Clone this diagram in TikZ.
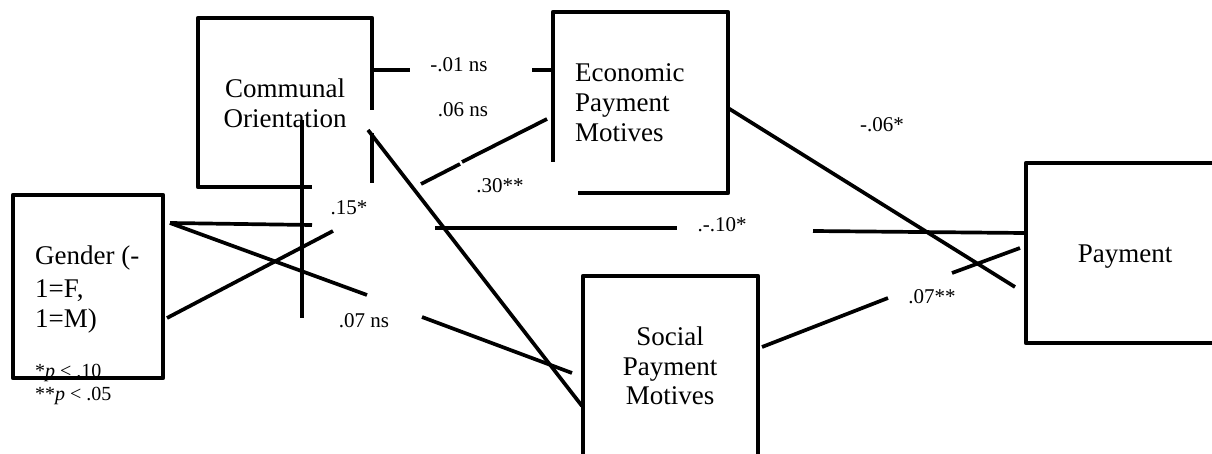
\documentclass[tikz,border=0pt]{standalone}
\usepackage{fontspec}
\setmainfont{Liberation Serif}
\begin{document}
\begin{tikzpicture}[x=1pt,y=-1pt,
  box/.style={line width=4.6pt, line join=round},
  conn/.style={line width=3.7pt},
  txt/.style={inner sep=0pt, font=\fontsize{27}{30}\selectfont},
  lab/.style={inner sep=0pt, font=\fontsize{21}{24}\selectfont},
  foot/.style={inner sep=0pt, font=\fontsize{20}{23}\selectfont}]
\useasboundingbox (0,0) rectangle (1212,454);

% footnote (under the Gender box edge)
\node[foot, anchor=base west] (f1) at (35,377) {*\textit{p} < .10};
\node[foot, anchor=base west] (f2) at (35,400) {**\textit{p} < .05};

% box texts
\node[txt, anchor=base] (co1) at (285,98) {Communal};
\node[txt, anchor=base] (co2) at (285,128) {Orientation};
\node[txt, anchor=base west] (ec1) at (575,82) {Economic};
\node[txt, anchor=base west] (ec2) at (575,112) {Payment};
\node[txt, anchor=base west] (ec3) at (575,142) {Motives};
\node[txt, anchor=base west] (ge1) at (35,265) {Gender (-};
\node[txt, anchor=base west] (ge2) at (35,297) {1=F,};
\node[txt, anchor=base west] (ge3) at (35,327) {1=M)};
\node[txt, anchor=base] (so1) at (670,345) {Social};
\node[txt, anchor=base] (so2) at (670,375) {Payment};
\node[txt, anchor=base] (so3) at (670,404) {Motives};
\node[txt, anchor=base] (pa) at (1125,262) {Payment};

% box outlines
\draw[box] (372,110) -- (372,18) -- (198,18) -- (198,187) -- (312,187);
\draw[box] (372,133) -- (372,183);
\draw[box] (553,162) -- (553,12) -- (728,12) -- (728,193) -- (578,193);
\draw[box] (13,195) rectangle (163,378);
\draw[box] (583,456) -- (583,276) -- (758,276) -- (758,456);
\draw[box] (1214,163) -- (1026,163) -- (1026,343) -- (1214,343);

% connector end points
\coordinate (cE1) at (373,70);  \coordinate (cE2) at (410,70);
\coordinate (cE3) at (532,70);  \coordinate (cE4) at (553,70);
\coordinate (cS1) at (368,130); \coordinate (cS2) at (582,406);
\coordinate (cV1) at (302,120); \coordinate (cV2) at (302,318);
\coordinate (gP1) at (170,223); \coordinate (gP2) at (312,225);
\coordinate (gP3) at (435,228); \coordinate (gP4) at (677,228);
\coordinate (gP5) at (813,231); \coordinate (gP6) at (1024,233);
\coordinate (gS2) at (367,295); \coordinate (gS3) at (422,317);
\coordinate (gS4) at (572,373);
\coordinate (gE1) at (167,318); \coordinate (gE2) at (333,231);
\coordinate (gE3) at (421,184); \coordinate (gE4) at (460,164);
\coordinate (gE5) at (462,162); \coordinate (gE6) at (547,119);
\coordinate (eP1) at (728,108); \coordinate (eP2) at (1015,287);
\coordinate (sP1) at (762,347); \coordinate (sP2) at (888,298);
\coordinate (sP3) at (952,273); \coordinate (sP4) at (1020,248);

% connectors
\draw[conn] (cE1) -- (cE2);
\draw[conn] (cE3) -- (cE4);
\draw[conn] (cS1) -- (cS2);
\draw[conn] (cV1) -- (cV2);
\draw[conn] (gP1) -- (gP2);
\draw[conn] (gP3) -- (gP4);
\draw[conn] (gP5) -- (gP6);
\draw[conn] (gP1) -- (gS2);
\draw[conn] (gS3) -- (gS4);
\draw[conn] (gE1) -- (gE2);
\draw[conn] (gE3) -- (gE4);
\draw[conn] (gE5) -- (gE6);
\draw[conn] (eP1) -- (eP2);
\draw[conn] (sP1) -- (sP2);
\draw[conn] (sP3) -- (sP4);

% labels
\node[lab] (l01) at (459,65) {-.01 ns};
\node[lab] (l06) at (463,110) {.06 ns};
\node[lab] (l30) at (500,186) {.30**};
\node[lab] (l15) at (349,208) {.15*};
\node[lab] (l10) at (722,225) {.-.10*};
\node[lab] (l07) at (364,321) {.07 ns};
\node[lab] (l06b) at (882,125) {-.06*};
\node[lab] (l07b) at (932,297) {.07**};
\end{tikzpicture}
\end{document}
